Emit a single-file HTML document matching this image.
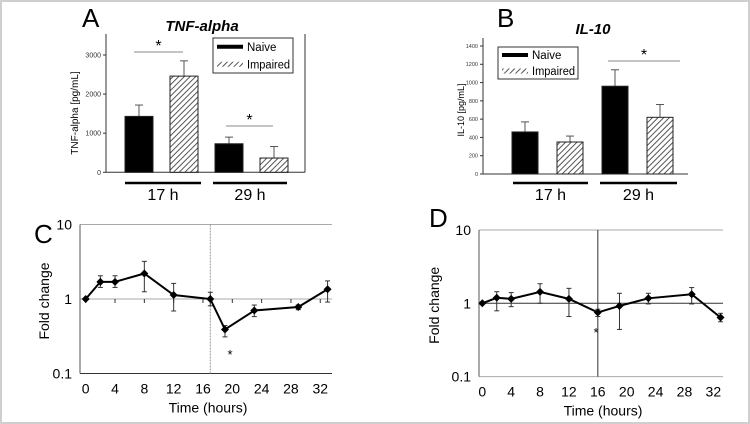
<!DOCTYPE html>
<html><head><meta charset="utf-8"><style>
html,body{margin:0;padding:0;background:#fff}
svg{display:block;font-family:"Liberation Sans",Arial,sans-serif}
</style></head><body>
<svg id="s" width="750" height="424" viewBox="0 0 750 424" xmlns="http://www.w3.org/2000/svg">
<defs>
<pattern id="hatch" patternUnits="userSpaceOnUse" width="4" height="4" patternTransform="rotate(45)">
<rect width="4" height="4" fill="#fff"/><line x1="0" y1="0" x2="0" y2="4" stroke="#555" stroke-width="2"/>
</pattern>
</defs>
<rect x="1" y="1" width="748" height="422" fill="#fff" stroke="#cfcfcf" stroke-width="2"/>
<g id="g"></g>
</svg>
<script>
// Panel A data
const aGroups = ["17 h", "29 h"];
const aNaive = [1430, 730];
const aNaiveErr = [1720, 900];
const aImpaired = [2460, 365];
const aImpairedErr = [2850, 660];
const aTicks = [0, 1000, 2000, 3000];
// Panel B data
const bGroups = ["17 h", "29 h"];
const bNaive = [460, 960];
const bNaiveErr = [570, 1140];
const bImpaired = [350, 620];
const bImpairedErr = [415, 760];
const bTicks = [0, 200, 400, 600, 800, 1000, 1200, 1400];
// Panel C data
const cTimes = [0, 2, 4, 8, 12, 17, 19, 23, 29, 33];
const cValues = [1, 1.7, 1.7, 2.2, 1.13, 1.0, 0.39, 0.70, 0.78, 1.35];
const cHigh = [1, 2.05, 2.05, 3.2, 1.62, 1.23, 0.44, 0.83, 0.83, 1.75];
const cLow = [1, 1.43, 1.43, 1.25, 0.69, 0.81, 0.31, 0.58, 0.72, 0.91];
// Panel D data
const dTimes = [0, 2, 4, 8, 12, 16, 19, 23, 29, 33];
const dValues = [1, 1.19, 1.15, 1.43, 1.15, 0.75, 0.92, 1.17, 1.33, 0.64];
const dHigh = [1, 1.44, 1.4, 1.85, 1.6, 0.83, 1.37, 1.37, 1.64, 0.73];
const dLow = [1, 0.79, 0.9, 1.0, 0.66, 0.66, 0.44, 0.98, 0.98, 0.56];
const xTicks = [0, 4, 8, 12, 16, 20, 24, 28, 32];
const logTicks = [0.1, 1, 10];

const NS = "http://www.w3.org/2000/svg";
const root = document.getElementById('g');
function el(tag, attrs, parent, text) {
  const e = document.createElementNS(NS, tag);
  for (const k in attrs) e.setAttribute(k, attrs[k]);
  if (text !== undefined) e.textContent = text;
  (parent || root).appendChild(e);
  return e;
}
function line(x1,y1,x2,y2,stroke,w,p){return el('line',{x1,y1,x2,y2,stroke,'stroke-width':w||1},p);}

function barPanel(o) {
  const g = el('g', {});
  
  
  const y = v => o.y0 - (v / o.vmax) * (o.y0 - o.yTop);
  const ya = line(o.xL, o.axTop, o.xL, o.y0, '#333', 1, g);
  
  
  const xa = line(o.xL, o.y0, o.xR, o.y0, '#333', 1, g);
  
  
  if (o.rightAxis) line(o.xR, o.axTop, o.xR, o.y0, '#333', 1, g);
  o.ticks.forEach(t => {
    line(o.xL - 3, y(t), o.xL, y(t), '#333', 1, g);
    const tl = el('text', {x: o.xL - 5, y: y(t) + o.tickFs * 0.35, 'font-size': o.tickFs, 'text-anchor': 'end', fill: '#333'}, g, String(t));
    
    
  });
  o.groups.forEach((gname, i) => {
    const series = [[o.naive[i], o.naiveErr[i], '#000', 'naive'], [o.imp[i], o.impErr[i], 'url(#hatch)', 'impaired']];
    series.forEach((s, j) => {
      const bx = o.barX[i] + j * o.pairGap;
      const cx = bx + o.bw / 2;
      line(cx, y(s[1]), cx, y(s[0]), '#555', 1, g);
      line(cx - 4, y(s[1]), cx + 4, y(s[1]), '#555', 1, g);
      const r = el('rect', {x: bx, y: y(s[0]), width: o.bw, height: o.y0 - y(s[0]), fill: s[2], stroke: '#222', 'stroke-width': 1}, g);
      
      
    });
    const gl = line(o.grpLine[i][0], o.grpY, o.grpLine[i][1], o.grpY, '#000', 2.5, g);
    
    
    const t = el('text', {x: (o.grpLine[i][0] + o.grpLine[i][1]) / 2, y: o.grpY + 17, 'font-size': 16, 'text-anchor': 'middle', fill: '#000'}, g, gname);
    
    
  });
  o.sig.forEach(s => {
    line(s[0], s[2], s[1], s[2], '#888', 1, g);
    const st = el('text', {x: (s[0] + s[1]) / 2, y: s[2] - 1, 'font-size': 16, 'text-anchor': 'middle', fill: '#000'}, g, '*');
    
    
  });
  const lg = el('g', {}, g);
  
  
  const L = o.legend;
  const rh = L[3] / 2;
  el('rect', {x: L[0], y: L[1], width: L[2], height: L[3], fill: '#fff', stroke: '#333', 'stroke-width': 1}, lg);
  el('rect', {x: L[0] + 4, y: L[1] + rh / 2 - 2, width: 26, height: 4, fill: '#000'}, lg);
  el('rect', {x: L[0] + 4, y: L[1] + rh * 1.5 - 2.5, width: 26, height: 5, fill: 'url(#hatch)'}, lg);
  el('text', {x: L[0] + 34, y: L[1] + rh / 2 + 4, 'font-size': 11.5}, lg, 'Naive');
  el('text', {x: L[0] + 34, y: L[1] + rh * 1.5 + 4, 'font-size': 11.5, textLength: L[2] - 37, lengthAdjust: 'spacingAndGlyphs'}, lg, 'Impaired');
  const tt = el('text', {x: o.title[1], y: o.title[2], 'font-size': 15, 'font-weight': 'bold', 'font-style': 'italic', 'text-anchor': 'middle'}, g, o.title[0]);
  
  
  const pl = el('text', {x: o.letter[1], y: o.letter[2], 'font-size': 26}, g, o.letter[0]);
  
  
  const yl = el('text', {x: 0, y: 0, 'font-size': o.ylabFs, 'text-anchor': 'middle', transform: `translate(${o.ylab[1]},${o.ylab[2]}) rotate(-90)`}, g, o.ylab[0]);
  
  
}

barPanel({name: 'panel-a-tnf-alpha', xL: 106, xR: 305, y0: 172.3, yTop: 55, vmax: 3000, axTop: 34, rightAxis: true, tickFs: 7,
  ticks: aTicks, groups: aGroups, naive: aNaive, naiveErr: aNaiveErr, imp: aImpaired, impErr: aImpairedErr,
  barX: [125, 215], pairGap: 45, bw: 28, grpLine: [[125, 201], [213, 287]], grpY: 183,
  sig: [[134, 183, 52], [226, 273, 126]], legend: [213, 38, 80, 35],
  title: ['TNF-alpha', 202, 31], letter: ['A', 82, 27], ylab: ['TNF-alpha [pg/mL]', 78, 113], ylabFs: 10});
barPanel({name: 'panel-b-il-10', xL: 483, xR: 688, y0: 174, yTop: 46, vmax: 1400, axTop: 38, rightAxis: false, tickFs: 5.5,
  ticks: bTicks, groups: bGroups, naive: bNaive, naiveErr: bNaiveErr, imp: bImpaired, impErr: bImpairedErr,
  barX: [512, 602], pairGap: 45, bw: 26, grpLine: [[513, 588], [600, 677]], grpY: 183,
  sig: [[608, 680, 61]], legend: [498, 47, 80, 32],
  title: ['IL-10', 593, 34], letter: ['B', 497, 27], ylab: ['IL-10 [pg/mL]', 464, 110], ylabFs: 9});

function linePanel(o) {
  const g = el('g', {});
  
  
  const x = t => o.x0 + t * o.px;
  const y = v => o.y1 - Math.log10(v) * o.dec;
  logTicks.forEach(t => {
    const dark = (t === 0.1 && o.bottomDark) || (t === 1 && o.oneDark);
    const gl = line(o.xL, y(t), o.xR, y(t), dark ? '#333' : '#aaa', 1, g);
    
    
    const tl = el('text', {x: o.xL - 8, y: y(t) + 5, 'font-size': 14, 'text-anchor': 'end'}, g, String(t));
    
    
  });
  const ya = line(o.xL, y(10), o.xL, y(0.1), o.axisCol, 1, g);
  
  
  xTicks.forEach(t => {
    if (o.tickMarks) line(x(t), y(1), x(t), y(1) + 4, '#333', 1, g);
    const tl = el('text', {x: x(t), y: y(0.1) + 20, 'font-size': 14, 'text-anchor': 'middle'}, g, String(t));
    
    
  });
  const vl = line(x(o.vline), y(10), x(o.vline), y(0.1), o.vlineCol, 1, g);
  if (o.dashed) vl.setAttribute('stroke-dasharray', '2,1');
  
  
  o.times.forEach((t, i) => {
    line(x(t), y(o.hi[i]), x(t), y(o.lo[i]), '#333', 1, g);
    line(x(t) - 2.5, y(o.hi[i]), x(t) + 2.5, y(o.hi[i]), '#333', 1, g);
    line(x(t) - 2.5, y(o.lo[i]), x(t) + 2.5, y(o.lo[i]), '#333', 1, g);
  });
  const pts = o.times.map((t, i) => x(t) + ',' + y(o.vals[i])).join(' ');
  const pl = el('polyline', {points: pts, fill: 'none', stroke: '#000', 'stroke-width': 2}, g);
  
  
  o.times.forEach((t, i) => {
    const cx = x(t), cy = y(o.vals[i]);
    const m = el('polygon', {points: `${cx},${cy-4} ${cx+4},${cy} ${cx},${cy+4} ${cx-4},${cy}`, fill: '#000'}, g);
    
    
  });
  const st = el('text', {x: o.star[0], y: o.star[1] + 6, 'font-size': 13, 'text-anchor': 'middle'}, g, '*');
  
  
  const xt = el('text', {x: (o.xL + o.xR) / 2 + 2, y: y(0.1) + 39, 'font-size': 14, 'text-anchor': 'middle'}, g, 'Time (hours)');
  
  
  const yt = el('text', {x: 0, y: 0, 'font-size': 14, 'text-anchor': 'middle', transform: `translate(${o.ylabX},${y(1) + 2}) rotate(-90)`}, g, 'Fold change');
  
  
  const lt = el('text', {x: o.letter[1], y: o.letter[2], 'font-size': 26}, g, o.letter[0]);
  
  
}
linePanel({name: 'panel-c', xL: 80, xR: 332, x0: 85.7, px: 7.33, y1: 299, dec: 74.5, times: cTimes, vals: cValues, hi: cHigh, lo: cLow,
  vline: 17, vlineCol: '#999', dashed: true, axisCol: '#555', bottomDark: true, oneDark: false, tickMarks: true,
  star: [230, 353], ylabX: 49, letter: ['C', 34, 243]});
linePanel({name: 'panel-d', xL: 479, xR: 723, x0: 482.3, px: 7.22, y1: 303.3, dec: 73.3, times: dTimes, vals: dValues, hi: dHigh, lo: dLow,
  vline: 16, vlineCol: '#333', dashed: false, axisCol: '#555', bottomDark: false, oneDark: true, tickMarks: false,
  star: [596, 331], ylabX: 439, letter: ['D', 429, 227]});
</script>
</body></html>
